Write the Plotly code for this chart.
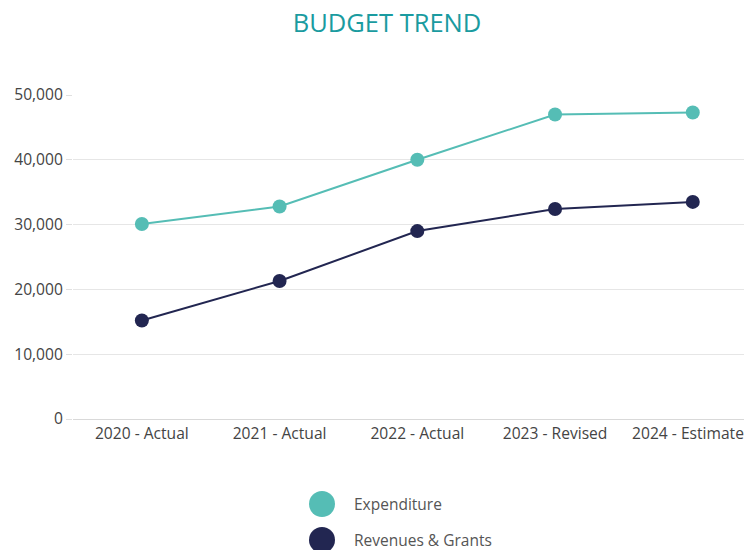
import plotly.graph_objects as go

categories = ["2020 - Actual", "2021 - Actual", "2022 - Actual", "2023 - Revised", "2024 - Estimated"]
expenditure = [30100, 32800, 40000, 47000, 47300]
revenues = [15200, 21300, 29000, 32400, 33500]
series_names = ["Expenditure", "Revenues & Grants"]
series_colors = ["#55bdb5", "#222651"]
y_ticks = [0, 10000, 20000, 30000, 40000, 50000]

W, H = 744, 542
L, T, B = 65, 87, 131
PB = H - B  # plot bottom pixel


def px_x(x):
    return (x - L) / (W - L)


def px_y(y):
    return (PB - y) / (PB - T)


fig = go.Figure()
for name, vals, col in zip(series_names, [expenditure, revenues], series_colors):
    fig.add_trace(go.Scatter(
        x=categories, y=vals, name=name, mode="lines+markers",
        line=dict(color=col, width=2),
        marker=dict(color=col, size=14),
        showlegend=False,
    ))

# custom legend with large circles
legend_y = [496, 532]
for name, col, py in zip(series_names, series_colors, legend_y):
    cx, r = 314, 13
    fig.add_shape(type="circle", xref="paper", yref="paper",
                  x0=px_x(cx - r), x1=px_x(cx + r),
                  y0=px_y(py + r), y1=px_y(py - r),
                  fillcolor=col, line=dict(width=0))
    fig.add_annotation(xref="paper", yref="paper",
                       x=px_x(344), y=px_y(py),
                       text=name, showarrow=False, xanchor="left", yanchor="middle",
                       font=dict(size=15.5, color="#555555", family="Open Sans"))

fig.update_layout(
    width=W, height=H,
    margin=dict(l=L, r=0, t=T, b=B),
    paper_bgcolor="white", plot_bgcolor="white",
    font=dict(family="Open Sans", size=15.6, color="#444444"),
    title=dict(text="BUDGET TREND", x=379 / W, xanchor="center", y=1 - 15 / H, yanchor="middle",
               font=dict(size=25.5, color="#1a9ba0", family="Open Sans")),
    xaxis=dict(type="category", range=[-0.5, 4.43], showgrid=False,
               showline=True, linecolor="#d9d9d9", linewidth=1,
               ticks="", tickfont=dict(size=15.6, color="#444444")),
    yaxis=dict(range=[0, 50000], tickvals=y_ticks, tickformat=",", showgrid=True,
               gridcolor="#e6e6e6", gridwidth=1, zeroline=False,
               ticks="outside", ticklen=6, tickcolor="#e0e0e0",
               tickfont=dict(size=15.6, color="#444444")),
)

fig.write_html("out.html")
